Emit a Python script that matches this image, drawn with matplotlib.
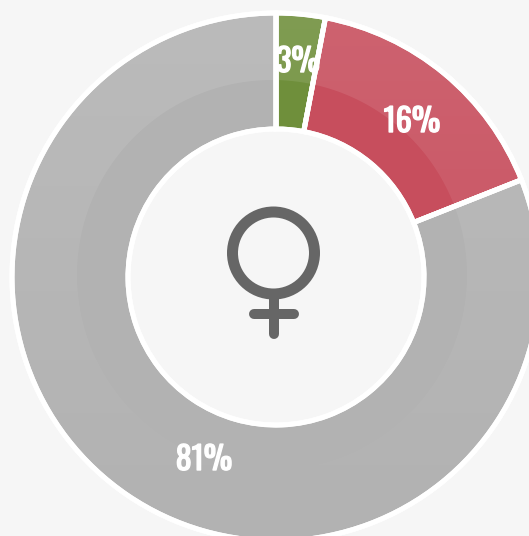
import numpy as np
import matplotlib
matplotlib.use('Agg')
import matplotlib.pyplot as plt
import matplotlib.patheffects as pe
from matplotlib.patches import Circle, PathPatch
from matplotlib.path import Path

# data
shares = [3, 16, 81]
labels = ['3%', '16%', '81%']
colors = ['#6f8f3b', '#c74e5d', '#b2b2b2']
label_xy = [(298, 62), (412, 122), (204, 460)]

bg = '#f6f6f6'
H = 536
cx, cy = 276, H - 277
px = 0.72  # one pixel in points

fig = plt.figure(figsize=(5.29, 5.36), dpi=100, facecolor=bg)
ax = fig.add_axes([0, 0, 1, 1])

wedges, _ = ax.pie(shares, colors=colors, startangle=90, counterclock=False,
                   center=(cx, cy), radius=264, frame=True,
                   wedgeprops=dict(width=264 - 148, edgecolor='white', linewidth=5 * px))
ax.axis('off')

# lighter outer band, fades out towards the bottom
fade = np.zeros((256, 2, 4))
fade[..., :3] = 1
fade[..., 3] = np.linspace(0.12, 0, 256)[:, None]
img = ax.imshow(fade, extent=(0, 529, 0, H), origin='upper', aspect='auto', zorder=2)
a = np.linspace(0, 2 * np.pi, 361)
ring_x = np.concatenate([cx + 262 * np.cos(a), 272 + 195 * np.cos(a[::-1])])
ring_y = np.concatenate([cy + 262 * np.sin(a), H - 275 + 195 * np.sin(a[::-1])])
codes = [Path.LINETO] * len(ring_x)
codes[0] = Path.MOVETO
codes[361] = Path.MOVETO
clip = PathPatch(Path(np.column_stack([ring_x, ring_y]), codes),
                 transform=ax.transData, fc='none', ec='none')
ax.add_patch(clip)
img.set_clip_path(clip)
ax.set_xlim(0, 529)
ax.set_ylim(0, H)
ax.set_aspect('equal')

# white dividers stay on top of the overlay
for w in wedges:
    ax.add_patch(PathPatch(w.get_path(), transform=w.get_transform(), fc='none',
                           ec='white', lw=5 * px, zorder=3))

# venus symbol
sym = '#666666'
ax.add_patch(Circle((273.5, H - 253), 41, fc='none', ec=sym, lw=11 * px, zorder=4))
ax.plot([273.5, 273.5], [H - 294, H - 334], color=sym, lw=10 * px,
        solid_capstyle='round', zorder=4)
ax.plot([254, 294], [H - 314, H - 314], color=sym, lw=10 * px,
        solid_capstyle='round', zorder=4)

# the font only has one weight here, a thin stroke makes it bolder
for t, (x, y) in zip(labels, label_xy):
    ax.text(x, H - y, t, color='#ffffff', fontsize=23,
            family=['Oswald', 'Roboto', 'DejaVu Sans'],
            ha='center', va='center', zorder=5,
            path_effects=[pe.withStroke(linewidth=1.0, foreground='#ffffff')])

fig.savefig('out.png', dpi=100, facecolor=bg)
